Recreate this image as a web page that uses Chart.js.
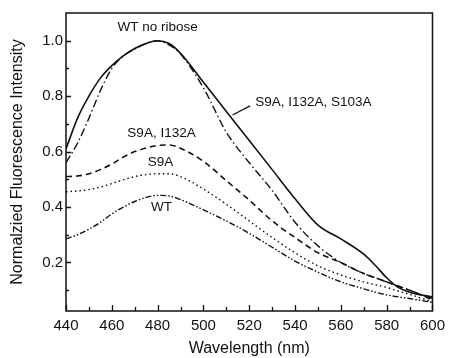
<!DOCTYPE html>
<html>
<head>
<meta charset="utf-8">
<script src="https://cdn.jsdelivr.net/npm/chart.js@4.4.1/dist/chart.umd.min.js"></script>
<style>
    html, body { margin: 0; padding: 0; background: #fff; }
    #wrap { width: 451px; height: 358px; }
</style>
</head>
<body>
<div id="wrap"><canvas id="chart" width="451" height="358"></canvas></div>
<script>
// Wavelengths (nm) shared by every series
const wavelength = [440, 445, 450, 455, 460, 465, 470, 475, 480, 485, 490, 500, 510, 520, 530, 540, 550, 560, 570, 575, 580, 585, 590, 600];

const wtNoRibose = [0.61, 0.72, 0.80, 0.865, 0.91, 0.945, 0.972, 0.99, 1.0, 0.99, 0.955, 0.85, 0.745, 0.64, 0.535, 0.43, 0.335, 0.285, 0.23, 0.19, 0.145, 0.11, 0.093, 0.075];
const s9aI132aS103a = [0.56, 0.63, 0.72, 0.82, 0.90, 0.945, 0.97, 0.99, 1.0, 0.985, 0.952, 0.83, 0.67, 0.56, 0.46, 0.345, 0.26, 0.20, 0.16, 0.145, 0.13, 0.115, 0.10, 0.07];
const s9aI132a = [0.51, 0.512, 0.52, 0.535, 0.555, 0.58, 0.60, 0.613, 0.622, 0.624, 0.612, 0.565, 0.495, 0.425, 0.35, 0.29, 0.235, 0.20, 0.16, 0.145, 0.13, 0.115, 0.10, 0.065];
const s9a = [0.455, 0.458, 0.463, 0.472, 0.485, 0.498, 0.51, 0.517, 0.52, 0.52, 0.51, 0.465, 0.41, 0.35, 0.29, 0.235, 0.188, 0.155, 0.13, 0.12, 0.11, 0.097, 0.085, 0.058];
const wt = [0.285, 0.30, 0.32, 0.345, 0.375, 0.40, 0.42, 0.435, 0.442, 0.44, 0.427, 0.39, 0.35, 0.305, 0.255, 0.205, 0.165, 0.13, 0.105, 0.093, 0.083, 0.076, 0.07, 0.056];

const xTicks = [440, 450, 460, 470, 480, 490, 500, 510, 520, 530, 540, 550, 560, 570, 580, 590, 600];
const yTicks = [0.1, 0.2, 0.3, 0.4, 0.5, 0.6, 0.7, 0.8, 0.9, 1.0];

// Curve labels, placed in data coordinates
const curveLabels = [
    { text: 'WT no ribose', x: 480, y: 1.047, align: 'center' },
    { text: 'S9A, I132A, S103A', x: 522.6, y: 0.779, align: 'left' },
    { text: 'S9A, I132A', x: 481.7, y: 0.667, align: 'center' },
    { text: 'S9A', x: 481.3, y: 0.563, align: 'center' },
    { text: 'WT', x: 481.7, y: 0.40, align: 'center' }
];
const leader = { x1: 512.7, y1: 0.732, x2: 520.4, y2: 0.765 };

Chart.defaults.color = '#111';
Chart.defaults.font.family = "'Liberation Sans', Arial, sans-serif";

const ink = '#111';

function series(label, values, dash, width) {
    return {
        label: label,
        data: wavelength.map((w, i) => ({ x: w, y: values[i] })),
        borderColor: ink,
        borderWidth: width,
        borderDash: dash,
        pointRadius: 0,
        fill: false,
        cubicInterpolationMode: 'monotone'
    };
}

// Box frame, inward tick marks and the curve annotations
const frameAndLabels = {
    id: 'frameAndLabels',
    afterDraw(chart) {
        const { ctx, chartArea: a, scales: { x, y } } = chart;
        ctx.save();
        ctx.strokeStyle = ink;
        ctx.lineWidth = 1.5;
        ctx.strokeRect(a.left, a.top, a.right - a.left, a.bottom - a.top);

        ctx.lineWidth = 1.3;
        ctx.beginPath();
        x.ticks.forEach(t => {
            const px = Math.round(x.getPixelForValue(t.value)) + 0.5;
            const len = t.value % 20 === 0 ? 6 : 4;
            ctx.moveTo(px, a.bottom);
            ctx.lineTo(px, a.bottom - len);
        });
        y.ticks.forEach(t => {
            const py = Math.round(y.getPixelForValue(t.value)) + 0.5;
            const len = Math.round(t.value * 10) % 2 === 0 ? 5 : 3;
            ctx.moveTo(a.left, py);
            ctx.lineTo(a.left + len, py);
        });
        ctx.stroke();

        ctx.fillStyle = ink;
        ctx.font = "13.5px 'Liberation Sans', Arial, sans-serif";
        ctx.textBaseline = 'middle';
        curveLabels.forEach(l => {
            ctx.textAlign = l.align;
            ctx.fillText(l.text, x.getPixelForValue(l.x), y.getPixelForValue(l.y));
        });

        ctx.lineWidth = 1.2;
        ctx.beginPath();
        ctx.moveTo(x.getPixelForValue(leader.x1), y.getPixelForValue(leader.y1));
        ctx.lineTo(x.getPixelForValue(leader.x2), y.getPixelForValue(leader.y2));
        ctx.stroke();
        ctx.restore();
    }
};

new Chart(document.getElementById('chart').getContext('2d'), {
    type: 'line',
    data: {
        datasets: [
            series('WT no ribose', wtNoRibose, [], 1.6),
            series('S9A, I132A, S103A', s9aI132aS103a, [8, 3, 1.5, 3], 1.4),
            series('S9A, I132A', s9aI132a, [6, 4], 1.6),
            series('S9A', s9a, [1.5, 3], 1.4),
            series('WT', wt, [6, 2, 1.5, 2, 1.5, 2], 1.4)
        ]
    },
    options: {
        responsive: false,
        animation: false,
        layout: { padding: { top: 13, right: 13, left: 0, bottom: 0 } },
        plugins: {
            legend: { display: false },
            tooltip: { enabled: false }
        },
        scales: {
            x: {
                type: 'linear',
                min: 440,
                max: 600,
                afterBuildTicks: s => { s.ticks = xTicks.map(v => ({ value: v })); },
                afterFit: s => { s.height = 47; },
                grid: { display: false, drawTicks: false },
                border: { display: false },
                ticks: {
                    autoSkip: false,
                    maxRotation: 0,
                    padding: 6,
                    font: { size: 15 },
                    callback: v => (v % 20 === 0 ? String(v) : '')
                },
                title: {
                    display: true,
                    text: 'Wavelength (nm)',
                    font: { size: 16 },
                    padding: { top: 0, bottom: 0 }
                }
            },
            y: {
                min: 0.025,
                max: 1.1,
                afterBuildTicks: s => { s.ticks = yTicks.map(v => ({ value: v })); },
                afterFit: s => { s.width = 66; },
                grid: { display: false, drawTicks: false },
                border: { display: false },
                ticks: {
                    autoSkip: false,
                    padding: 3,
                    font: { size: 15 },
                    callback: v => (Math.round(v * 10) % 2 === 0 ? v.toFixed(1) : '')
                },
                title: {
                    display: true,
                    text: 'Normalzied Fluorescence Intensity',
                    font: { size: 16 },
                    padding: { top: 8, bottom: 0 }
                }
            }
        }
    },
    plugins: [frameAndLabels]
});
</script>
</body>
</html>
